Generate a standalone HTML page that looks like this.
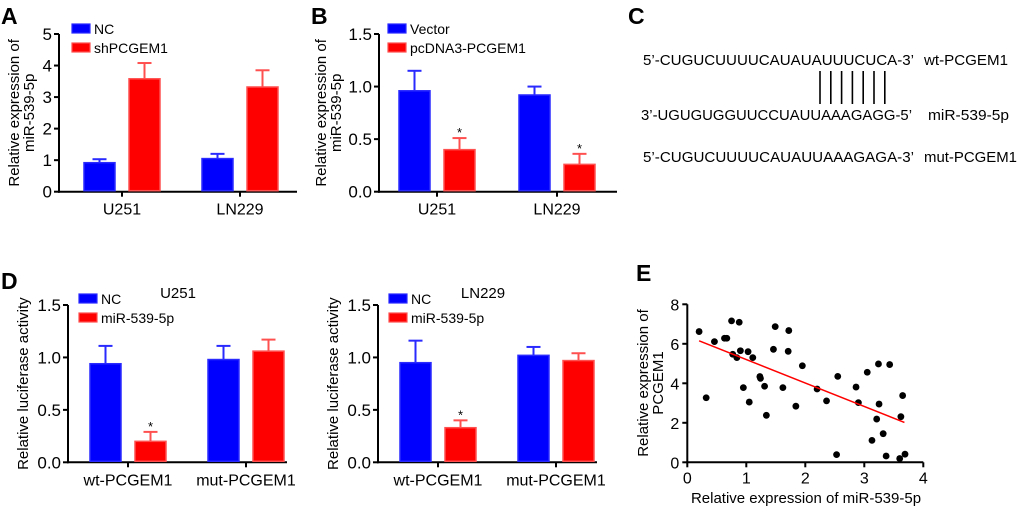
<!DOCTYPE html>
<html><head><meta charset="utf-8">
<style>
html,body{margin:0;padding:0;background:#fff;}
svg{display:block;font-family:"Liberation Sans",Arial,sans-serif;}
</style></head>
<body>
<svg id="fig" width="1020" height="506" viewBox="0 0 1020 506" xmlns="http://www.w3.org/2000/svg">
  <text x="1" y="24" font-size="23" font-weight="bold">A</text>
  <text x="311" y="24" font-size="23" font-weight="bold">B</text>
  <text x="628" y="24" font-size="23" font-weight="bold">C</text>
  <text x="1" y="289" font-size="23" font-weight="bold">D</text>
  <text x="636" y="281" font-size="23" font-weight="bold">E</text>

  <g font-size="14.5">
    <text x="643" y="65" textLength="271" lengthAdjust="spacingAndGlyphs">5’-CUGUCUUUUCAUAUAUUUCUCA-3’</text>
    <text x="924" y="65" textLength="84" lengthAdjust="spacingAndGlyphs">wt-PCGEM1</text>
    <text x="641" y="120" textLength="271" lengthAdjust="spacingAndGlyphs">3’-UGUGUGGUUCCUAUUAAAGAGG-5’</text>
    <text x="928" y="120" textLength="81" lengthAdjust="spacingAndGlyphs">miR-539-5p</text>
    <text x="643" y="162" textLength="271" lengthAdjust="spacingAndGlyphs">5’-CUGUCUUUUCAUAUUAAAGAGA-3’</text>
    <text x="924" y="162" textLength="93" lengthAdjust="spacingAndGlyphs">mut-PCGEM1</text>
    <g id="pairs" stroke="#000" stroke-width="1.6"></g>
  </g>
  <g id="charts"></g>
</svg>
<script>
const catsA = ['U251', 'LN229'];
const ncA = [0.92, 1.05];
const ncAErr = [0.11, 0.15];
const shA = [3.58, 3.32];
const shAErr = [0.50, 0.53];
const ticksA = ['0', '1', '2', '3', '4', '5'];
const catsB = ['U251', 'LN229'];
const vecB = [0.96, 0.92];
const vecBErr = [0.19, 0.08];
const pcB = [0.40, 0.26];
const pcBErr = [0.11, 0.10];
const ticksB = ['0.0', '0.5', '1.0', '1.5'];
const catsD = ['wt-PCGEM1', 'mut-PCGEM1'];
const ncD1 = [0.94, 0.98];
const ncD1Err = [0.17, 0.13];
const miD1 = [0.20, 1.06];
const miD1Err = [0.09, 0.11];
const ncD2 = [0.95, 1.02];
const ncD2Err = [0.21, 0.08];
const miD2 = [0.33, 0.97];
const miD2Err = [0.07, 0.07];
const ticksD = ['0.0', '0.5', '1.0', '1.5'];
const scatX = [0.20,0.32,0.46,0.63,0.67,0.75,0.77,0.88,0.84,0.90,0.95,1.03,1.05,1.11,1.23,1.24,1.31,1.34,1.46,1.49,1.62,1.71,1.72,1.84,1.95,2.20,2.36,2.53,2.55,2.86,2.90,3.05,3.13,3.21,3.24,3.25,3.32,3.37,3.43,3.60,3.62,3.65,3.69];
const scatY = [6.62,3.27,6.11,6.28,6.28,7.16,5.47,7.09,5.30,5.65,3.78,5.60,3.05,5.30,4.34,4.25,3.85,2.38,5.72,6.87,3.78,5.62,6.67,2.84,4.89,3.71,3.11,0.39,4.35,3.81,3.02,4.56,1.11,2.19,4.98,2.95,1.45,0.32,4.95,0.19,2.31,3.38,0.41];
const fitLine = [0.20, 6.15, 3.68, 2.02];
const ticksEX = ['0', '1', '2', '3', '4'];
const ticksEY = ['0', '2', '4', '6', '8'];

const NS = 'http://www.w3.org/2000/svg';
const root = document.getElementById('charts');
function mk(tag, attrs, parent, text) {
  const e = document.createElementNS(NS, tag);
  for (const k in attrs) e.setAttribute(k, attrs[k]);
  if (text !== undefined) e.textContent = text;
  (parent || root).appendChild(e);
  return e;
}

const pg = document.getElementById('pairs');
for (let i = 0; i < 7; i++) {
  const l = mk('line', {x1: 820 + i * 10.8, x2: 820 + i * 10.8, y1: 71, y2: 104}, pg);
  
  
}

function barChart(cfg) {
  const g = mk('g', {});
  
  
  const y = v => cfg.y0 - (v / cfg.ymax) * (cfg.y0 - cfg.ytop);
  const ya = mk('line', {x1: cfg.x0, x2: cfg.x0, y1: cfg.ytop, y2: cfg.y0 + 1, stroke: '#000', 'stroke-width': 2}, g);
  
  
  const xa = mk('line', {x1: cfg.x0 - 1, x2: cfg.x1, y1: cfg.y0, y2: cfg.y0, stroke: '#000', 'stroke-width': 2}, g);
  
  
  cfg.ticks.forEach(t => {
    const v = parseFloat(t), yy = y(v);
    mk('line', {x1: cfg.x0 - 5, x2: cfg.x0, y1: yy, y2: yy, stroke: '#000', 'stroke-width': 2}, g);
    const tl = mk('text', {x: cfg.x0 - 7, y: yy + 6, 'font-size': 17, 'text-anchor': 'end'}, g, t);
    
    
  });
  const series = [
    {vals: cfg.s1[0], errs: cfg.s1[1], fill: '#0000ff', edge: '#2a2aff', off: -22.5, name: 'bar-control'},
    {vals: cfg.s2[0], errs: cfg.s2[1], fill: '#ff0000', edge: '#ff5050', off: 22.5, name: 'bar-treatment'}
  ];
  cfg.cats.forEach((c, i) => {
    const cx = cfg.x0 + cfg.tickOff[i];
    mk('line', {x1: cx, x2: cx, y1: cfg.y0, y2: cfg.y0 + 5, stroke: '#000', 'stroke-width': 2}, g);
    const cl = mk('text', {x: cx, y: cfg.y0 + 23, 'font-size': 16, 'text-anchor': 'middle'}, g, c);
    
    
    series.forEach((s, k) => {
      const v = s.vals[i], er = s.errs[i];
      const bc = cx + s.off;
      const top = y(v), etop = y(v + er);
      mk('line', {x1: bc, x2: bc, y1: top, y2: etop, stroke: s.edge, 'stroke-width': 2}, g);
      mk('line', {x1: bc - 7, x2: bc + 7, y1: etop, y2: etop, stroke: s.edge, 'stroke-width': 2}, g);
      const r = mk('rect', {x: bc - 15.5, y: top, width: 31, height: cfg.y0 - top - 1, fill: s.fill, stroke: s.edge, 'stroke-width': 1.5}, g);
      
      
      if (k === 1 && cfg.star && cfg.star[i]) {
        const st = mk('text', {x: bc, y: etop - 1, 'font-size': 13, 'text-anchor': 'middle'}, g, '*');
        
        
      }
    });
  });
  [[cfg.l1, '#0000ff', '#2a2aff', cfg.ly], [cfg.l2, '#ff0000', '#ff5050', cfg.ly + 19]].forEach(l => {
    const sw = mk('rect', {x: cfg.lx, y: l[3], width: 18, height: 9, fill: l[1], stroke: l[2], 'stroke-width': 1.2}, g);
    
    
    const lt = mk('text', {x: cfg.lx + 22, y: l[3] + 10, 'font-size': 14}, g, l[0]);
    
    
  });
  const my = (cfg.y0 + cfg.ytop) / 2;
  cfg.ytitle.forEach((line, j) => {
    const xx = cfg.ytx + j * 15;
    const t = mk('text', {x: xx, y: my, 'font-size': 15, 'text-anchor': 'middle', transform: `rotate(-90 ${xx} ${my})`}, g, line);
    
    
  });
  if (cfg.title) {
    const t = mk('text', {x: cfg.tx, y: cfg.ty, 'font-size': 15, 'text-anchor': 'middle'}, g, cfg.title);
    
    
  }
}

barChart({name: 'chart-a', x0: 59, x1: 297, y0: 191.7, ytop: 34, ymax: 5, ticks: ticksA, cats: catsA, tickOff: [63, 181],
  s1: [ncA, ncAErr], s2: [shA, shAErr], l1: 'NC', l2: 'shPCGEM1', lx: 72, ly: 24, ytitle: ['Relative expression of', 'miR-539-5p'], ytx: 19});
barChart({name: 'chart-b', x0: 379, x1: 617, y0: 191.7, ytop: 34, ymax: 1.5, ticks: ticksB, cats: catsB, tickOff: [58, 178],
  s1: [vecB, vecBErr], s2: [pcB, pcBErr], star: [1, 1], l1: 'Vector', l2: 'pcDNA3-PCGEM1', lx: 388, ly: 24, ytitle: ['Relative expression of', 'miR-539-5p'], ytx: 326});
barChart({name: 'chart-d-u251', x0: 68, x1: 287, y0: 462.3, ytop: 305, ymax: 1.5, ticks: ticksD, cats: catsD, tickOff: [60, 178],
  s1: [ncD1, ncD1Err], s2: [miD1, miD1Err], star: [1, 0], l1: 'NC', l2: 'miR-539-5p', lx: 79, ly: 294, ytitle: ['Relative luciferase activity'], ytx: 28, title: 'U251', tx: 178, ty: 298});
barChart({name: 'chart-d-ln229', x0: 378, x1: 597, y0: 462.3, ytop: 305, ymax: 1.5, ticks: ticksD, cats: catsD, tickOff: [60, 178],
  s1: [ncD2, ncD2Err], s2: [miD2, miD2Err], star: [1, 0], l1: 'NC', l2: 'miR-539-5p', lx: 389, ly: 294, ytitle: ['Relative luciferase activity'], ytx: 338, title: 'LN229', tx: 483, ty: 298});

(function () {
  const g = mk('g', {});
  
  
  const X0 = 687.3, X1 = 923.3, Y0 = 462.3, Y1 = 304.3;
  const sx = v => X0 + v / 4 * (X1 - X0);
  const sy = v => Y0 - v / 8 * (Y0 - Y1);
  const ya = mk('line', {x1: X0, x2: X0, y1: Y1, y2: Y0 + 1, stroke: '#000', 'stroke-width': 2}, g);
  
  
  const xa = mk('line', {x1: X0 - 1, x2: X1, y1: Y0, y2: Y0, stroke: '#000', 'stroke-width': 2}, g);
  
  
  ticksEX.forEach(t => {
    const xx = sx(parseFloat(t));
    mk('line', {x1: xx, x2: xx, y1: Y0, y2: Y0 + 5, stroke: '#000', 'stroke-width': 2}, g);
    const tl = mk('text', {x: xx, y: Y0 + 21, 'font-size': 16, 'text-anchor': 'middle'}, g, t);
    
    
  });
  ticksEY.forEach(t => {
    const yy = sy(parseFloat(t));
    mk('line', {x1: X0 - 5, x2: X0, y1: yy, y2: yy, stroke: '#000', 'stroke-width': 2}, g);
    const tl = mk('text', {x: X0 - 8, y: yy + 6, 'font-size': 16, 'text-anchor': 'end'}, g, t);
    
    
  });
  scatX.forEach((v, i) => {
    const c = mk('circle', {cx: sx(v), cy: sy(scatY[i]), r: 3.4, fill: '#000'}, g);
    
    
  });
  const fl = mk('line', {x1: sx(fitLine[0]), y1: sy(fitLine[1]), x2: sx(fitLine[2]), y2: sy(fitLine[3]), stroke: '#ff0000', 'stroke-width': 1.5}, g);
  
  
  const xt = mk('text', {x: 806, y: 503, 'font-size': 15, 'text-anchor': 'middle'}, g, 'Relative expression of miR-539-5p');
  
  
  const my = 383;
  [['Relative expression of', 648], ['PCGEM1', 663]].forEach(p => {
    const t = mk('text', {x: p[1], y: my, 'font-size': 15, 'text-anchor': 'middle', transform: `rotate(-90 ${p[1]} ${my})`}, g, p[0]);
    
    
  });
})();
</script>
</body></html>
